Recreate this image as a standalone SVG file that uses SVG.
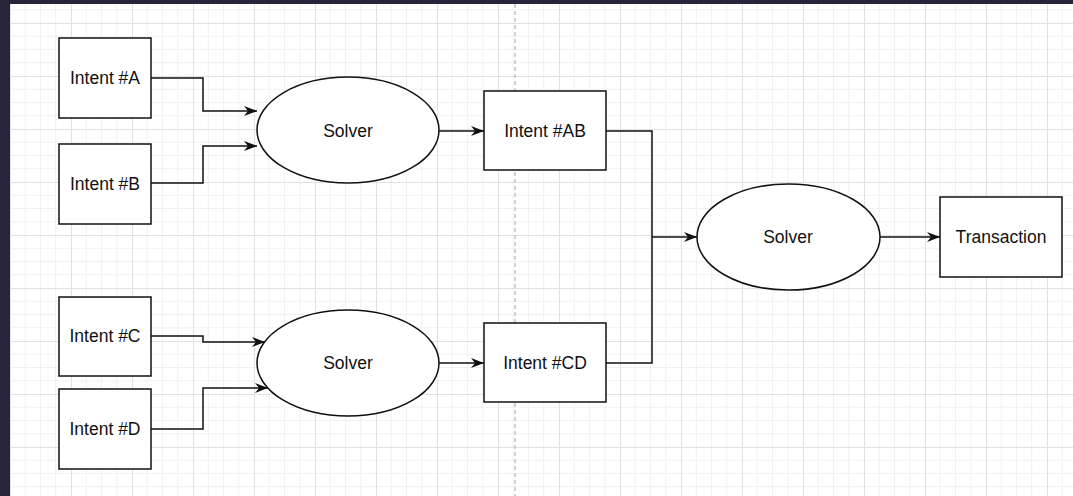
<svg xmlns="http://www.w3.org/2000/svg" width="1073" height="496" viewBox="0 0 1073 496">
  <style>
    .box { fill: #ffffff; stroke: #111111; stroke-width: 1.5; }
    .lbl { font-family: "Liberation Sans", Arial, sans-serif; font-size: 17.5px; fill: #111111; text-anchor: middle; }
    .edge { fill: none; stroke: #111111; stroke-width: 1.5; }
    .minor { stroke: #f1f1f1; stroke-width: 1; }
    .major { stroke: #e0e0e0; stroke-width: 1; }
  </style>
  <defs>
    <pattern id="grid" x="10" y="23" width="61" height="53" patternUnits="userSpaceOnUse">
      <line class="minor" x1="15.25" y1="0" x2="15.25" y2="53"/>
      <line class="minor" x1="30.5" y1="0" x2="30.5" y2="53"/>
      <line class="minor" x1="45.75" y1="0" x2="45.75" y2="53"/>
      <line class="minor" x1="0" y1="13.25" x2="61" y2="13.25"/>
      <line class="minor" x1="0" y1="26.5" x2="61" y2="26.5"/>
      <line class="minor" x1="0" y1="39.75" x2="61" y2="39.75"/>
      <line class="major" x1="0.5" y1="0" x2="0.5" y2="53"/>
      <line class="major" x1="0" y1="0.5" x2="61" y2="0.5"/>
    </pattern>
    <marker id="arrow" viewBox="0 0 13 10" refX="13" refY="5" markerWidth="13" markerHeight="10" markerUnits="userSpaceOnUse" orient="auto">
      <path d="M0,0 L13,5 L0,10 L4,5 z" fill="#111111"/>
    </marker>
  </defs>

  <!-- canvas frame and grid -->
  <rect x="0" y="0" width="1073" height="496" fill="#26253b"/>
  <rect x="10" y="4" width="1063" height="492" fill="#ffffff"/>
  <rect x="10" y="4" width="1063" height="492" fill="url(#grid)"/>
  <line x1="515" y1="4" x2="515" y2="496" stroke="#c4c4c4" stroke-width="1.5" stroke-dasharray="4 3"/>

  <!-- connectors -->
  <g id="connectors">
    <path class="edge" d="M151,78 H203 V111 H257" marker-end="url(#arrow)"/>
    <path class="edge" d="M151,183 H203 V146 H257" marker-end="url(#arrow)"/>
    <path class="edge" d="M151,336 H203 V342 H265" marker-end="url(#arrow)"/>
    <path class="edge" d="M151,429 H203 V388 H268" marker-end="url(#arrow)"/>
    <path class="edge" d="M439,131 H484" marker-end="url(#arrow)"/>
    <path class="edge" d="M439,363 H484" marker-end="url(#arrow)"/>
    <path class="edge" d="M606,131 H652 V363 H606"/>
    <path class="edge" d="M652,237 H697" marker-end="url(#arrow)"/>
    <path class="edge" d="M880,237 H940" marker-end="url(#arrow)"/>
  </g>

  <!-- nodes -->
  <g id="intent-a">
    <rect class="box" x="59" y="38" width="92" height="80"/>
    <text class="lbl" x="105" y="84">Intent #A</text>
  </g>
  <g id="intent-b">
    <rect class="box" x="59" y="144" width="92" height="80"/>
    <text class="lbl" x="105" y="190">Intent #B</text>
  </g>
  <g id="intent-c">
    <rect class="box" x="59" y="297" width="92" height="79"/>
    <text class="lbl" x="105" y="342">Intent #C</text>
  </g>
  <g id="intent-d">
    <rect class="box" x="59" y="389" width="92" height="80"/>
    <text class="lbl" x="105" y="435">Intent #D</text>
  </g>
  <g id="solver-ab">
    <ellipse class="box" cx="348" cy="130" rx="91" ry="53"/>
    <text class="lbl" x="348" y="137">Solver</text>
  </g>
  <g id="solver-cd">
    <ellipse class="box" cx="348" cy="363" rx="91" ry="53"/>
    <text class="lbl" x="348" y="369">Solver</text>
  </g>
  <g id="intent-ab">
    <rect class="box" x="484" y="91" width="122" height="79"/>
    <text class="lbl" x="545" y="137">Intent #AB</text>
  </g>
  <g id="intent-cd">
    <rect class="box" x="484" y="323" width="122" height="79"/>
    <text class="lbl" x="545" y="369">Intent #CD</text>
  </g>
  <g id="solver-final">
    <ellipse class="box" cx="788.5" cy="237" rx="91.5" ry="53"/>
    <text class="lbl" x="788" y="243">Solver</text>
  </g>
  <g id="transaction">
    <rect class="box" x="940" y="197" width="122" height="80"/>
    <text class="lbl" x="1001" y="243">Transaction</text>
  </g>
</svg>
